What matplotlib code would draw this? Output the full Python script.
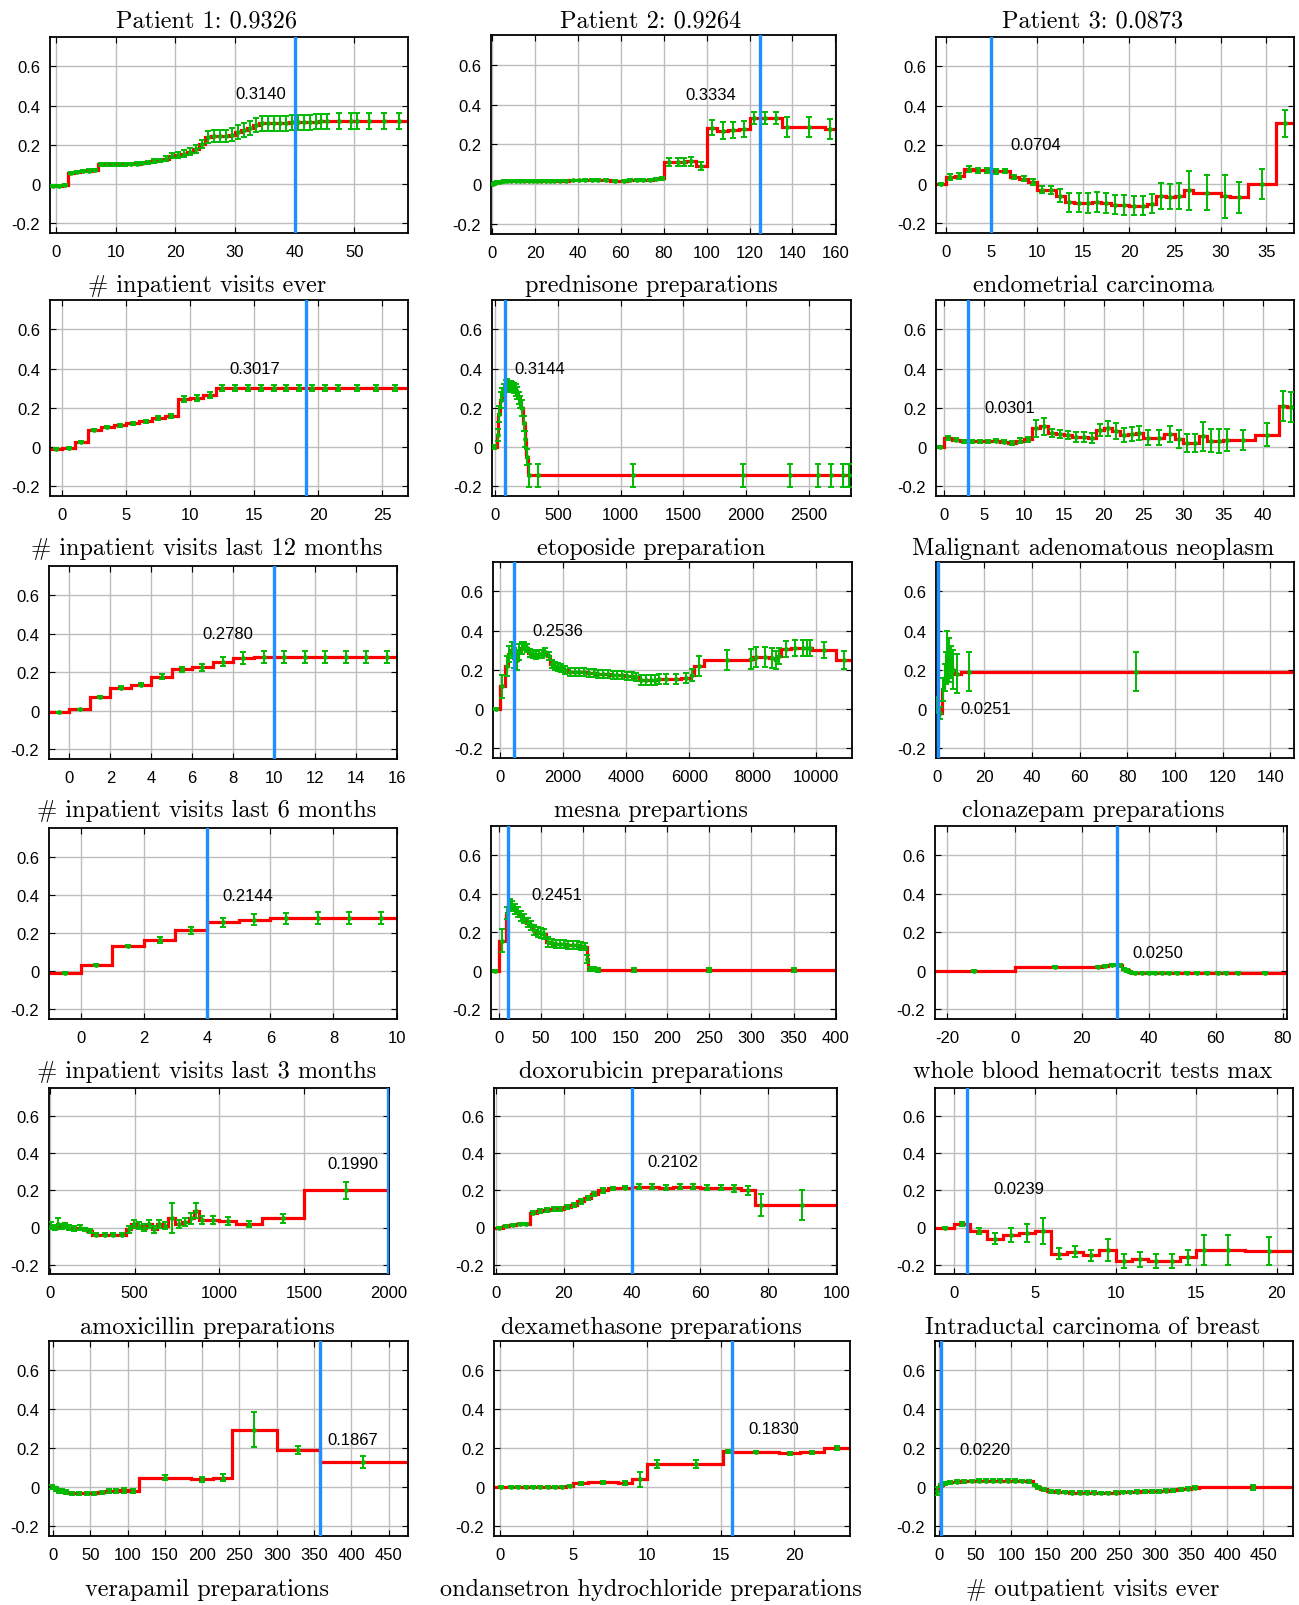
import matplotlib
matplotlib.use("Agg")
import matplotlib.pyplot as plt
import numpy as np

# ---------------- data ----------------
titles = ["Patient 1: 0.9326", "Patient 2: 0.9264", "Patient 3: 0.0873"]
xlabels = [
    "# inpatient visits ever", "prednisone preparations", "endometrial carcinoma",
    "# inpatient visits last 12 months", "etoposide preparation", "Malignant adenomatous neoplasm",
    "# inpatient visits last 6 months", "mesna prepartions", "clonazepam preparations",
    "# inpatient visits last 3 months", "doxorubicin preparations", "whole blood hematocrit tests max",
    "amoxicillin preparations", "dexamethasone preparations", "Intraductal carcinoma of breast",
    "verapamil preparations", "ondansetron hydrochloride preparations", "# outpatient visits ever",
]
notes = ["0.3140", "0.3334", "0.0704", "0.3017", "0.3144", "0.0301",
         "0.2780", "0.2536", "0.0251", "0.2144", "0.2451", "0.0250",
         "0.1990", "0.2102", "0.0239", "0.1867", "0.1830", "0.0220"]
vlines = [40, 125, 5, 19, 75, 3, 10, 443, 0.5, 4, 10.7, 30.5, 1997, 40, 0.8, 358, 15.8, 3]

ytick_vals = [-0.2, 0, 0.2, 0.4, 0.6]
ytick_labels = ["-0.2", "0", "0.2", "0.4", "0.6"]

# panel 1
p1_edges = [-1, 0, 1, 2, 3, 4, 5, 6, 7, 8, 9, 10, 11, 12, 13, 14, 15, 16, 17, 18, 19, 20, 21, 22, 23,
            24, 25, 26, 27, 28, 29, 30, 31, 32, 33, 34, 35, 36, 37, 38, 39, 40, 41, 42, 43, 44, 45, 46,
            49, 50, 51, 54, 56, 59]
p1_vals = [-0.01, -0.01, -0.005, 0.055, 0.062, 0.065, 0.068, 0.072, 0.10, 0.10, 0.10, 0.10, 0.10,
           0.102, 0.104, 0.106, 0.11, 0.118, 0.12, 0.13, 0.145, 0.15, 0.155, 0.165, 0.178, 0.205, 0.24,
           0.245, 0.245, 0.245, 0.252, 0.265, 0.275, 0.285, 0.30, 0.31, 0.31, 0.31, 0.31, 0.31, 0.315,
           0.315, 0.315, 0.315, 0.318, 0.32, 0.32, 0.32, 0.32, 0.32, 0.32, 0.32, 0.32]
p1_errs = [0.005, 0.005, 0.005, 0.006, 0.006, 0.006, 0.006, 0.006, 0.006, 0.006, 0.006, 0.006, 0.006,
           0.006, 0.006, 0.006, 0.008, 0.01, 0.01, 0.012, 0.014, 0.015, 0.016, 0.018, 0.02, 0.022, 0.03,
           0.03, 0.03, 0.03, 0.032, 0.034, 0.035, 0.036, 0.037, 0.038, 0.038, 0.038, 0.038, 0.038, 0.038,
           0.038, 0.038, 0.038, 0.038, 0.038, 0.038, 0.04, 0.04, 0.04, 0.04, 0.04, 0.04]

# panel 2
p2_edges = [0, 1, 2, 3, 4, 5, 6, 8, 10, 12, 14, 16, 18, 20, 22, 24, 26, 28, 30, 33, 36, 39, 42, 45, 48,
            51, 55, 60, 63, 66, 69, 72, 75, 78, 80, 85, 88.5, 90.5, 95, 100, 105, 110, 115, 120, 124,
            130, 135, 140, 155, 160.3]
p2_vals = [0.0, 0.006, 0.01, 0.012, 0.014, 0.015, 0.016, 0.017, 0.017, 0.018, 0.018, 0.018, 0.018,
           0.018, 0.018, 0.018, 0.018, 0.018, 0.018, 0.018, 0.019, 0.019, 0.02, 0.02, 0.02, 0.02, 0.018,
           0.018, 0.019, 0.02, 0.02, 0.022, 0.025, 0.03,
           0.11, 0.11, 0.112, 0.115, 0.09,
           0.285, 0.27, 0.272, 0.276, 0.335, 0.335, 0.335, 0.288, 0.288, 0.277]
p2_errs = [0.004, 0.004, 0.004, 0.004, 0.004, 0.004, 0.004, 0.004, 0.004, 0.004, 0.004, 0.004, 0.004,
           0.004, 0.004, 0.004, 0.004, 0.004, 0.004, 0.004, 0.004, 0.004, 0.004, 0.004, 0.005, 0.005,
           0.005, 0.005, 0.005, 0.005, 0.005, 0.006, 0.006, 0.007,
           0.02, 0.02, 0.02, 0.022, 0.02,
           0.04, 0.045, 0.04, 0.04, 0.03, 0.03, 0.03, 0.05, 0.05, 0.05]

# panel 3
p3_edges = [-1, 0, 1, 2, 3, 4, 5, 6, 7, 8, 9, 10, 11, 12, 13, 14, 15, 16, 17, 18, 19, 20, 21, 22, 23,
            24, 25, 26, 27, 30, 31, 33, 36, 38]
p3_vals = [0.0, 0.035, 0.04, 0.078, 0.07, 0.07, 0.065, 0.065, 0.035, 0.028, 0.008, -0.03, -0.03,
           -0.06, -0.093, -0.095, -0.098, -0.093, -0.098, -0.105, -0.108, -0.11, -0.11, -0.1, -0.06,
           -0.065, -0.062, -0.033, -0.045, -0.063, -0.068, 0.0, 0.31]
p3_errs = [0.005, 0.015, 0.015, 0.015, 0.012, 0.012, 0.012, 0.01, 0.012, 0.012, 0.015, 0.018, 0.022,
           0.032, 0.048, 0.048, 0.05, 0.05, 0.05, 0.05, 0.05, 0.05, 0.05, 0.05, 0.065, 0.065, 0.068,
           0.1, 0.09, 0.11, 0.08, 0.075, 0.07]

# panel 4
p4_edges = [-1, 0, 1, 2, 3, 4, 5, 6, 7, 8, 9, 10, 11, 12, 13, 14, 15, 16, 17, 18, 19, 20, 21, 22,
            24, 25, 27]
p4_vals = [-0.008, -0.005, 0.025, 0.088, 0.103, 0.11, 0.12, 0.132, 0.148, 0.16, 0.245, 0.25, 0.264,
           0.30, 0.30, 0.30, 0.30, 0.30, 0.30, 0.30, 0.30, 0.30, 0.30, 0.30, 0.30, 0.30]
p4_errs = [0.004, 0.004, 0.005, 0.006, 0.006, 0.006, 0.007, 0.007, 0.008, 0.01, 0.016, 0.015, 0.015,
           0.015, 0.016, 0.016, 0.016, 0.016, 0.016, 0.016, 0.016, 0.016, 0.016, 0.016, 0.016, 0.016]

# panel 5
p5_edges = [-25, 13, 26, 39, 52, 65, 78, 91, 104, 117, 130, 143, 156, 169, 182, 195, 208, 221, 234,
            247, 260, 280, 400, 1796, 2150, 2542, 2596, 2756, 2786, 2846]
p5_vals = [0.0, 0.06, 0.17, 0.24, 0.27, 0.29, 0.31, 0.32, 0.31, 0.31, 0.305, 0.30, 0.29, 0.275, 0.25,
           0.23, 0.20, 0.12, 0.04, -0.05, -0.145, -0.145, -0.145, -0.145, -0.145, -0.145, -0.145,
           -0.145, -0.145]
p5_errs = [0.01, 0.03, 0.04, 0.04, 0.03, 0.03, 0.03, 0.025, 0.025, 0.025, 0.025, 0.025, 0.03, 0.03,
           0.03, 0.03, 0.04, 0.04, 0.04, 0.04, 0.06, 0.06, 0.06, 0.06, 0.06, 0.06, 0.06, 0.06, 0.06]

# panel 6
p6_edges = [-1, 0, 1, 2, 3, 4, 5, 6, 7, 8, 9, 10, 11, 12, 13, 14, 15, 16, 17, 18, 19, 20, 21, 22, 23,
            24, 25, 26.2, 27.6, 29, 30, 31, 32, 33, 34, 35, 36, 39, 42, 43, 44]
p6_vals = [0.0, 0.046, 0.037, 0.03, 0.03, 0.03, 0.03, 0.033, 0.028, 0.022, 0.032, 0.04, 0.095, 0.105,
           0.072, 0.065, 0.06, 0.052, 0.05, 0.045, 0.085, 0.095, 0.08, 0.063, 0.065, 0.07, 0.048,
           0.048, 0.065, 0.04, 0.02, 0.02, 0.055, 0.033, 0.03, 0.035, 0.035, 0.063, 0.21, 0.205]
p6_errs = [0.005, 0.01, 0.008, 0.008, 0.008, 0.008, 0.008, 0.01, 0.01, 0.01, 0.012, 0.012, 0.045,
           0.045, 0.02, 0.02, 0.02, 0.025, 0.025, 0.025, 0.03, 0.04, 0.04, 0.035, 0.035, 0.035, 0.04,
           0.04, 0.04, 0.045, 0.045, 0.045, 0.075, 0.06, 0.06, 0.055, 0.05, 0.06, 0.075, 0.075]

# panel 7
p7_edges = [-1, 0, 1, 2, 3, 4, 5, 6, 7, 8, 9, 10, 11, 12, 13, 14, 15, 16]
p7_vals = [-0.008, 0.007, 0.072, 0.12, 0.136, 0.176, 0.215, 0.226, 0.255, 0.272, 0.278, 0.278, 0.278,
           0.278, 0.278, 0.278, 0.278]
p7_errs = [0.004, 0.004, 0.006, 0.006, 0.01, 0.014, 0.014, 0.018, 0.022, 0.032, 0.03, 0.03, 0.03,
           0.03, 0.03, 0.03, 0.03]

# panel 8
p8_edges = [-200, 0, 180, 260, 340, 420, 500, 580, 660, 740, 820, 900, 1000, 1100, 1200, 1300, 1400,
            1500, 1600, 1700, 1800, 1900, 2000, 2150, 2300, 2450, 2600, 2750, 2900, 3050, 3200, 3350,
            3500, 3650, 3800, 3950, 4100, 4250, 4400, 4550, 4700, 4850, 5000, 5100, 5450, 5730, 6050,
            6150, 6450, 7930, 8000, 8236, 8520, 8700, 8780, 8900, 9230, 9480, 9680, 9770, 9880, 10650,
            11150]
p8_vals = [0.0, 0.115, 0.22, 0.28, 0.30, 0.26, 0.25, 0.29, 0.31, 0.32, 0.31, 0.285, 0.28, 0.275, 0.28,
           0.28, 0.29, 0.27, 0.23, 0.22, 0.215, 0.21, 0.20, 0.19, 0.19, 0.19, 0.19, 0.185, 0.185, 0.18,
           0.18, 0.18, 0.175, 0.175, 0.175, 0.17, 0.17, 0.165, 0.15, 0.15, 0.15, 0.15, 0.155, 0.155,
           0.155, 0.157, 0.175, 0.22, 0.25, 0.255, 0.265, 0.265, 0.26, 0.25, 0.27, 0.305, 0.31, 0.31,
           0.31, 0.31, 0.30, 0.25]
p8_errs = [0.005, 0.06, 0.05, 0.04, 0.04, 0.05, 0.05, 0.04, 0.03, 0.02, 0.02, 0.02, 0.02, 0.02, 0.02,
           0.02, 0.02, 0.02, 0.02, 0.02, 0.02, 0.02, 0.02, 0.02, 0.02, 0.02, 0.02, 0.02, 0.02, 0.02,
           0.02, 0.02, 0.02, 0.02, 0.02, 0.02, 0.02, 0.02, 0.025, 0.025, 0.025, 0.025, 0.025, 0.025,
           0.025, 0.025, 0.03, 0.05, 0.05, 0.05, 0.05, 0.05, 0.05, 0.045, 0.04, 0.04, 0.04, 0.04, 0.04,
           0.04, 0.04, 0.045]

# panel 9
p9_edges = [-0.6, 0.2, 2.3, 3.2, 3.7, 4.2, 4.8, 5.5, 6.3, 7.1, 10, 17.4, 150.2]
p9_vals = [0.02, -0.02, 0.10, 0.16, 0.21, 0.27, 0.25, 0.24, 0.20, 0.18, 0.19, 0.19]
p9_errs = [0.04, 0.03, 0.06, 0.07, 0.08, 0.13, 0.11, 0.08, 0.1, 0.1, 0.1, 0.1]

# panel 10
p10_edges = [-1, 0, 1, 2, 3, 4, 5, 6, 7, 8, 9, 10]
p10_vals = [-0.008, 0.032, 0.133, 0.165, 0.214, 0.256, 0.27, 0.277, 0.278, 0.278, 0.278]
p10_errs = [0.004, 0.005, 0.006, 0.015, 0.018, 0.025, 0.028, 0.03, 0.03, 0.03, 0.03]

# panel 11
p11_edges = [-9, 0, 8, 11, 14, 17, 20, 24, 28, 32, 36, 40, 44, 48, 52, 56, 60, 65, 70, 75, 80, 85, 90,
             95, 100, 104, 106, 110, 115, 120, 200, 300, 400]
p11_vals = [0.0, 0.155, 0.30, 0.345, 0.335, 0.32, 0.305, 0.285, 0.27, 0.25, 0.235, 0.21, 0.2, 0.195,
            0.19, 0.15, 0.145, 0.14, 0.14, 0.14, 0.135, 0.135, 0.135, 0.13, 0.125, 0.06, 0.01, 0.008,
            0.006, 0.006, 0.006, 0.005]
p11_errs = [0.005, 0.06, 0.03, 0.025, 0.025, 0.025, 0.025, 0.025, 0.025, 0.025, 0.025, 0.025, 0.025,
            0.025, 0.025, 0.025, 0.02, 0.02, 0.02, 0.02, 0.02, 0.02, 0.02, 0.02, 0.02, 0.02, 0.01, 0.01,
            0.01, 0.01, 0.01, 0.01]

# panel 12
p12_edges = [-24, 0, 24, 26, 28, 30, 31, 32, 33, 34, 35, 37, 39, 41, 43, 45, 47, 50, 53, 56, 59, 62,
             64, 69, 80]
p12_vals = [0.0, 0.02, 0.022, 0.025, 0.028, 0.03, 0.028, 0.01, 0.002, -0.005, -0.01, -0.012, -0.013,
            -0.012, -0.012, -0.013, -0.013, -0.014, -0.014, -0.014, -0.014, -0.014, -0.013, -0.013]
p12_errs = [0.004, 0.004, 0.005, 0.005, 0.005, 0.006, 0.006, 0.006, 0.006, 0.005, 0.005, 0.005,
            0.005, 0.005, 0.005, 0.005, 0.005, 0.005, 0.005, 0.005, 0.005, 0.005, 0.005, 0.005]

# panel 13
p13_edges = [-5, 20, 40, 60, 80, 100, 130, 160, 190, 220, 250, 300, 350, 400, 450, 480, 510, 540, 570,
             600, 630, 660, 700, 740, 780, 820, 850, 880, 920, 1000, 1100, 1250, 1500, 2000]
p13_vals = [0.01, 0.0, 0.02, 0.005, 0.01, 0.0, -0.005, 0.0, -0.01, -0.02, -0.04, -0.04, -0.04, -0.04,
            -0.01, 0.02, 0.01, 0.0, 0.02, -0.01, 0.02, 0.01, 0.05, 0.02, 0.03, 0.05, 0.09, 0.04, 0.04,
            0.035, 0.02, 0.05, 0.2]
p13_errs = [0.02, 0.015, 0.03, 0.015, 0.015, 0.015, 0.015, 0.015, 0.01, 0.01, 0.008, 0.008, 0.008,
            0.008, 0.02, 0.02, 0.02, 0.02, 0.02, 0.02, 0.02, 0.02, 0.08, 0.02, 0.02, 0.03, 0.04, 0.02,
            0.02, 0.02, 0.015, 0.025, 0.045]

# panel 14
p14_edges = [0, 2, 4, 6, 8, 10, 12, 14, 16, 18, 20, 22, 24, 26, 28, 30, 33, 36, 40, 44, 48, 52, 56,
             60, 64, 68, 72, 76, 80, 100]
p14_vals = [0.0, 0.01, 0.015, 0.02, 0.02, 0.08, 0.09, 0.095, 0.10, 0.10, 0.11, 0.12, 0.14, 0.16, 0.18,
            0.20, 0.21, 0.215, 0.22, 0.22, 0.215, 0.22, 0.22, 0.215, 0.215, 0.21, 0.20, 0.12, 0.12]
p14_errs = [0.005, 0.006, 0.006, 0.006, 0.006, 0.01, 0.01, 0.01, 0.01, 0.01, 0.012, 0.012, 0.012,
            0.012, 0.012, 0.012, 0.01, 0.01, 0.012, 0.012, 0.012, 0.012, 0.012, 0.012, 0.015, 0.02,
            0.025, 0.06, 0.08]

# panel 15
p15_edges = [-1.2, 0, 1, 2, 3, 4, 5, 6, 7, 8, 9, 10, 11, 12, 13, 14, 15, 16, 18, 21]
p15_vals = [0.0, 0.02, -0.02, -0.06, -0.04, -0.03, -0.02, -0.14, -0.13, -0.15, -0.12, -0.18, -0.17,
            -0.18, -0.18, -0.16, -0.12, -0.12, -0.125]
p15_errs = [0.005, 0.01, 0.015, 0.03, 0.04, 0.05, 0.07, 0.03, 0.03, 0.03, 0.06, 0.04, 0.04, 0.04,
            0.04, 0.04, 0.08, 0.08, 0.075]

# panel 16
p16_edges = [-5, 2, 6, 10, 15, 20, 30, 40, 50, 60, 70, 80, 90, 100, 115, 185, 215, 240, 300, 358, 472]
p16_vals = [0.0, -0.01, -0.02, -0.02, -0.025, -0.03, -0.03, -0.03, -0.03, -0.025, -0.02, -0.02,
            -0.015, -0.02, 0.05, 0.04, 0.05, 0.295, 0.19, 0.13]
p16_errs = [0.01, 0.01, 0.01, 0.01, 0.01, 0.008, 0.008, 0.008, 0.008, 0.008, 0.01, 0.01, 0.012, 0.012,
            0.015, 0.015, 0.02, 0.09, 0.02, 0.03]

# panel 17
p17_edges = [-0.4, 0.5, 1, 1.5, 2, 2.5, 3, 3.5, 4, 4.5, 5, 6, 8, 9, 10, 11.4, 15.2, 15.8, 19, 20.4,
             22, 23.8]
p17_vals = [0.0, 0.0, 0.002, 0.003, 0.002, 0.0, 0.001, 0.002, 0.003, 0.005, 0.02, 0.025, 0.022, 0.04,
            0.12, 0.12, 0.185, 0.18, 0.175, 0.18, 0.2]
p17_errs = [0.004, 0.004, 0.004, 0.004, 0.004, 0.004, 0.004, 0.004, 0.004, 0.004, 0.006, 0.006,
            0.008, 0.04, 0.02, 0.02, 0.008, 0.006, 0.008, 0.008, 0.01]

# panel 18
p18_edges = [-6, 0, 5, 10, 20, 30, 40, 50, 60, 70, 80, 90, 100, 110, 120, 130, 135, 140, 150, 160,
             170, 180, 190, 200, 210, 220, 230, 240, 250, 260, 270, 280, 290, 300, 310, 320, 330, 340,
             350, 360, 510]
p18_vals = [-0.02, 0.01, 0.02, 0.025, 0.028, 0.03, 0.032, 0.033, 0.034, 0.034, 0.034, 0.033, 0.033,
            0.032, 0.03, 0.012, 0.0, -0.01, -0.02, -0.022, -0.025, -0.027, -0.028, -0.028, -0.028,
            -0.03, -0.03, -0.028, -0.025, -0.025, -0.022, -0.02, -0.02, -0.02, -0.018, -0.015, -0.01,
            -0.008, -0.003, 0.0]
p18_errs = [0.02, 0.008, 0.007, 0.007, 0.007, 0.007, 0.007, 0.007, 0.007, 0.007, 0.007, 0.007, 0.007,
            0.007, 0.007, 0.007, 0.007, 0.007, 0.007, 0.007, 0.007, 0.007, 0.007, 0.007, 0.007, 0.007,
            0.007, 0.007, 0.007, 0.007, 0.008, 0.008, 0.008, 0.008, 0.008, 0.008, 0.008, 0.008, 0.008,
            0.012]

all_edges = [p1_edges, p2_edges, p3_edges, p4_edges, p5_edges, p6_edges, p7_edges, p8_edges, p9_edges,
             p10_edges, p11_edges, p12_edges, p13_edges, p14_edges, p15_edges, p16_edges, p17_edges,
             p18_edges]
all_vals = [p1_vals, p2_vals, p3_vals, p4_vals, p5_vals, p6_vals, p7_vals, p8_vals, p9_vals,
            p10_vals, p11_vals, p12_vals, p13_vals, p14_vals, p15_vals, p16_vals, p17_vals, p18_vals]
all_errs = [p1_errs, p2_errs, p3_errs, p4_errs, p5_errs, p6_errs, p7_errs, p8_errs, p9_errs,
            p10_errs, p11_errs, p12_errs, p13_errs, p14_errs, p15_errs, p16_errs, p17_errs, p18_errs]

# ---------------- layout ----------------
W, H = 1299, 1606
# axes boxes in pixels: left, right, top, bottom
boxes = [
    (50, 408, 38, 234), (491, 836, 36, 235), (936, 1294, 38, 234),
    (50, 408, 301, 497), (492, 851, 301, 497), (936, 1294, 301, 497),
    (49, 397, 567, 760), (493, 852, 563, 759), (936, 1294, 563, 759),
    (49, 397, 829, 1020), (491, 836, 827, 1020), (935, 1287, 827, 1020),
    (49, 389, 1089, 1275), (494, 837, 1089, 1275), (935, 1293, 1089, 1275),
    (49, 408, 1342, 1537), (494, 850, 1342, 1537), (935, 1293, 1342, 1537),
]
xlims = [(-1, 59), (-0.5, 160.3), (-1.05, 38), (-0.96, 27), (-25, 2835), (-1.05, 43.9),
         (-1, 16.01), (-210, 11145), (-0.3, 150), (-1, 10.01), (-9.5, 400.5), (-23.7, 81.2),
         (-5, 2001), (-0.5, 100.2), (-1.2, 21), (-5.5, 476), (-0.4, 23.8), (-5.7, 491)]
xticks = [np.arange(0, 51, 10), np.arange(0, 161, 20), np.arange(0, 36, 5),
          np.arange(0, 26, 5), np.arange(0, 2501, 500), np.arange(0, 41, 5),
          np.arange(0, 17, 2), np.arange(0, 10001, 2000), np.arange(0, 141, 20),
          np.arange(0, 11, 2), np.arange(0, 401, 50), np.arange(-20, 81, 20),
          np.arange(0, 2001, 500), np.arange(0, 101, 20), np.arange(0, 21, 5),
          np.arange(0, 451, 50), np.arange(0, 21, 5), np.arange(0, 451, 50)]
note_xy = [(34.3, 0.46), (101.8, 0.45), (9.85, 0.2), (15.05, 0.403), (356, 0.398), (8.15, 0.203),
           (7.76, 0.398), (1834, 0.40), (20.7, 0.0), (5.3, 0.398), (68.5, 0.397), (42.7, 0.097),
           (1789, 0.345), (51.9, 0.356), (4.0, 0.208), (402, 0.247), (18.6, 0.30), (63, 0.195)]
col_centers = [207, 651, 1093]
label_baselines = [292, 555, 817, 1078, 1334, 1596]
title_baseline = 27

RED = "#ff0000"
GREEN = "#00bb00"
BLUE = "#1e8fff"
SANS = "Liberation Sans"
SERIF = "cmr10"

fig = plt.figure(figsize=(W / 100, H / 100), dpi=100)

for i in range(18):
    l, r, t, b = boxes[i]
    ax = fig.add_axes([l / W, 1 - b / H, (r - l) / W, (b - t) / H])
    edges = np.array(all_edges[i], dtype=float)
    vals = np.array(all_vals[i])
    errs = np.array(all_errs[i])
    x0, x1 = xlims[i]

    line_edges = edges.copy()
    line_edges[0] = min(line_edges[0], x0)
    line_edges[-1] = max(line_edges[-1], x1)
    ax.stairs(vals, line_edges, baseline=None, color=RED, lw=2.3, zorder=2)

    mids = (edges[:-1] + edges[1:]) / 2
    ax.errorbar(mids, vals, yerr=errs, fmt="o", ms=2.4, color=GREEN, ecolor=GREEN,
                elinewidth=1.4, capsize=2.0, capthick=1.4, zorder=3)

    ax.axvline(vlines[i], color=BLUE, lw=2.4, zorder=4)
    ax.text(note_xy[i][0], note_xy[i][1], notes[i], ha="center", va="center",
            fontsize=12, family=SANS, zorder=5)

    ax.set_xlim(x0, x1)
    ax.set_ylim(-0.25, 0.75)
    ax.set_xticks(xticks[i])
    ax.set_xticklabels([str(int(v)) for v in xticks[i]], family=SANS, fontsize=12)
    ax.set_yticks(ytick_vals)
    ax.set_yticklabels(ytick_labels, family=SANS, fontsize=12)
    ax.grid(True, color="#bdbdbd", lw=1.0, zorder=0)
    ax.set_axisbelow(True)
    ax.tick_params(direction="in", top=True, right=True, length=4, width=0.8)
    ax.tick_params(axis="x", pad=8)
    ax.tick_params(axis="y", pad=7)
    for s in ax.spines.values():
        s.set_linewidth(1.3)
        s.set_color("black")

    row, col = divmod(i, 3)
    fig.text(col_centers[col] / W, 1 - label_baselines[row] / H, xlabels[i],
             ha="center", va="baseline", family=SERIF, fontsize=17.5)
    if row == 0:
        fig.text(col_centers[col] / W, 1 - title_baseline / H, titles[col],
                 ha="center", va="baseline", family=SERIF, fontsize=17.5)

fig.savefig("out.png", dpi=100)
